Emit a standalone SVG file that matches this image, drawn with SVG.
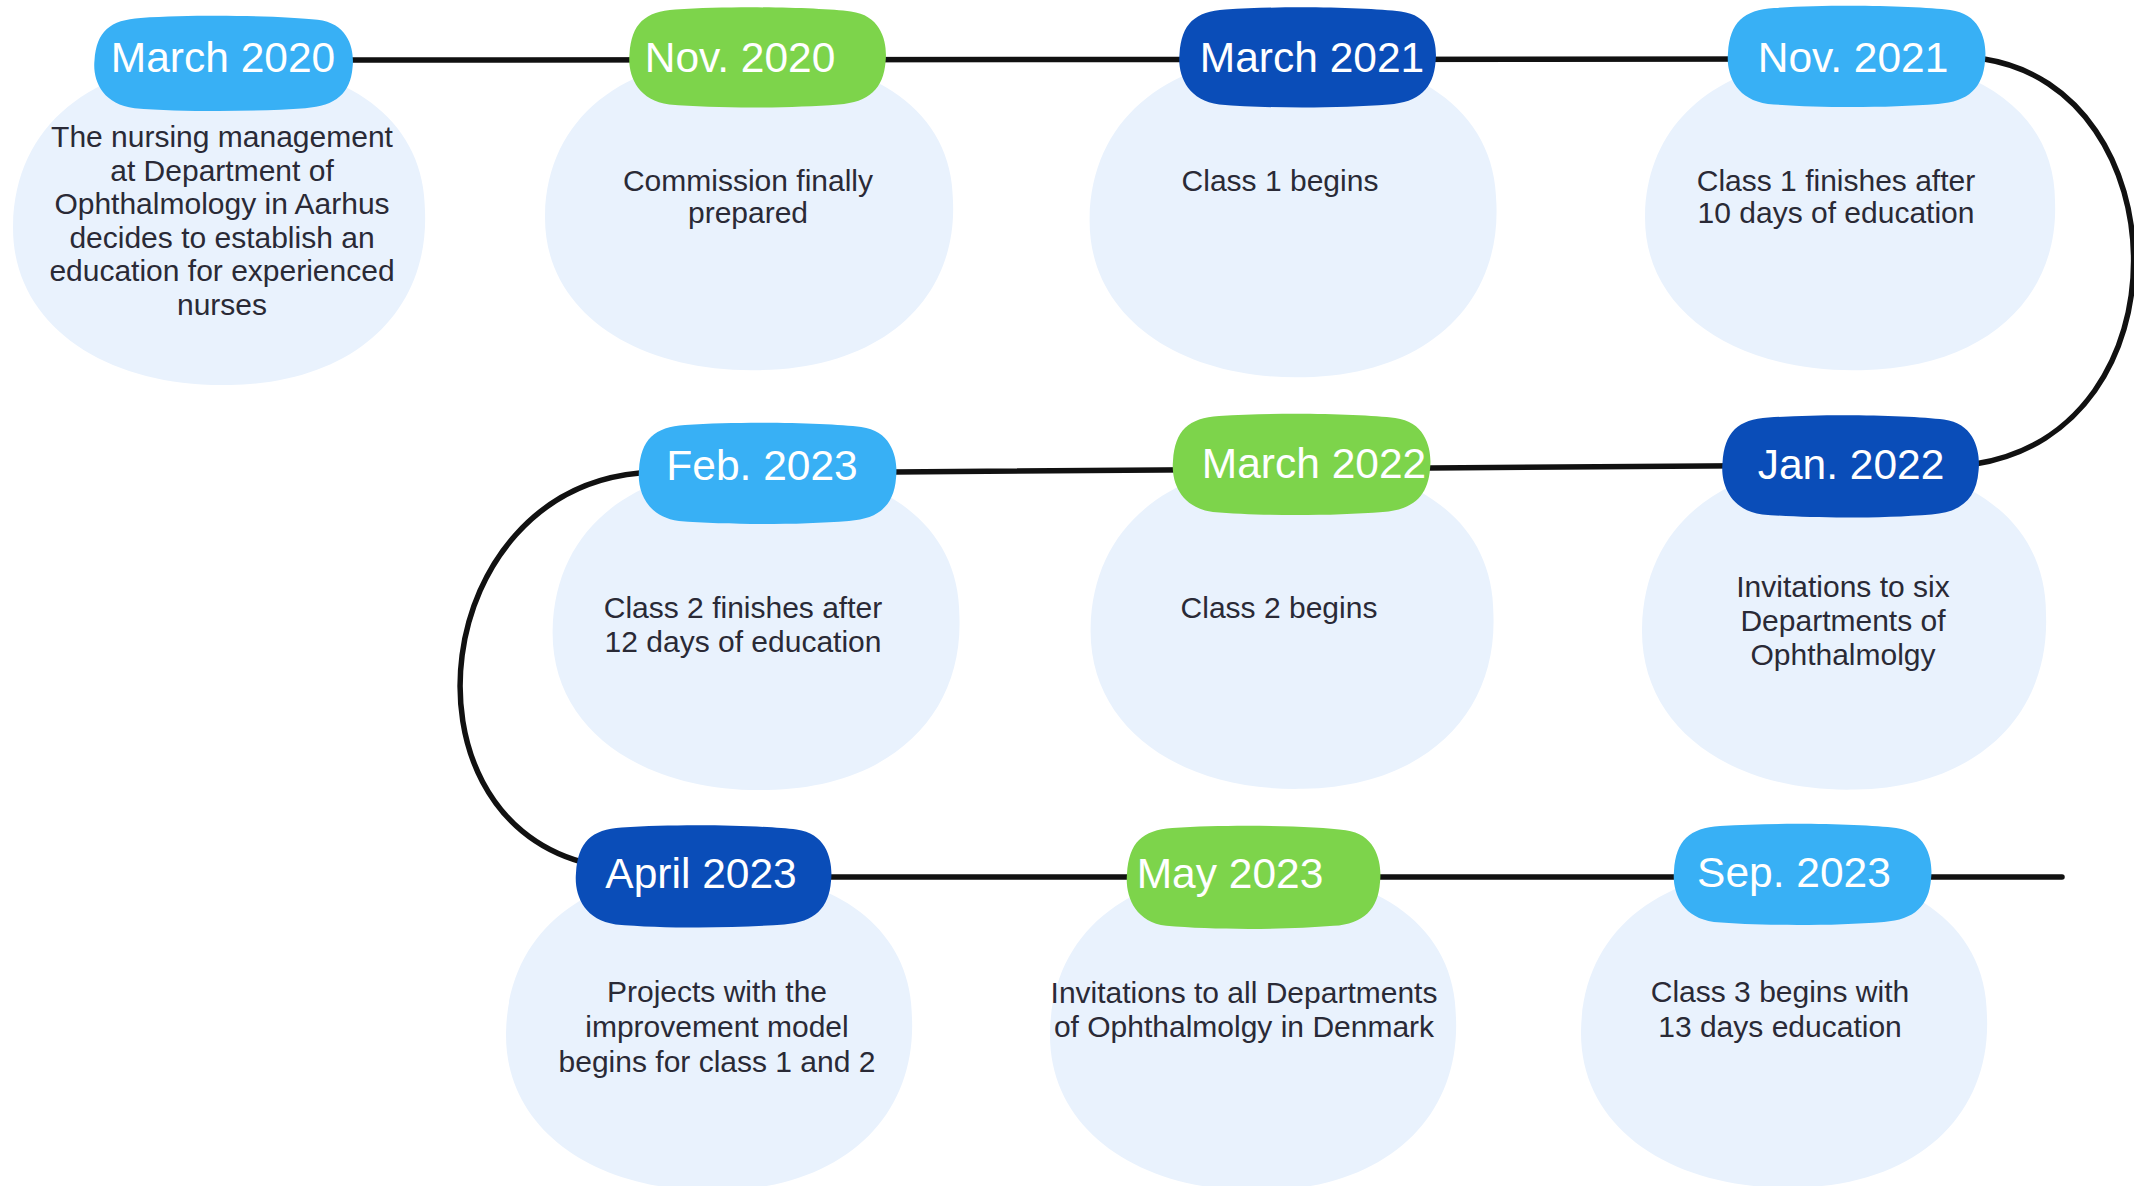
<svg xmlns="http://www.w3.org/2000/svg" xmlns:xlink="http://www.w3.org/1999/xlink" width="2134" height="1186" viewBox="0 0 2134 1186">
<style>
.blob{fill:#e9f2fd}
.lb{fill:#38b0f5}
.gr{fill:#7dd44b}
.db{fill:#0a4db8}
.date{font-family:"Liberation Sans",Arial,sans-serif;font-size:42.5px;fill:#ffffff;text-anchor:middle}
.body{font-family:"Liberation Sans",Arial,sans-serif;font-size:30px;fill:#2a2a36;text-anchor:middle}
.conn{fill:none;stroke:#111111;stroke-width:5.5;stroke-linecap:round;stroke-linejoin:round}
</style>
<defs>
<path id="blob" d="M -10,-162 C 110,-166 200,-112 200,-12 C 204,88 132,160 12,162 C -108,165 -200,102 -198,2 C -196,-98 -122,-158 -10,-162 Z"/>
<path id="pill" d="M -80,-48 C -20,-52 60,-50 92,-46 C 124,-42 128,-12 126,4 C 124,30 110,44 80,46 C 30,50 -40,50 -86,46 C -118,42 -127,16 -125,-4 C -123,-34 -110,-46 -80,-48 Z"/>
</defs>
<rect width="2134" height="1186" fill="#ffffff"/>

<g id="blobs">
<use xlink:href="#blob" href="#blob" class="blob" transform="translate(218,223) scale(1.035,1)"/>
<use xlink:href="#blob" href="#blob" class="blob" transform="translate(748,213) scale(1.025,0.97)"/>
<use xlink:href="#blob" href="#blob" class="blob" transform="translate(1292,216) scale(1.022,0.995)"/>
<use xlink:href="#blob" href="#blob" class="blob" transform="translate(1849,213) scale(1.03,0.97)"/>
<use xlink:href="#blob" href="#blob" class="blob" transform="translate(1843,626) scale(1.015,1.01)"/>
<use xlink:href="#blob" href="#blob" class="blob" transform="translate(1291,626) scale(1.012,1.005)"/>
<use xlink:href="#blob" href="#blob" class="blob" transform="translate(755,628) scale(1.022,1.0)"/>
<use xlink:href="#blob" href="#blob" class="blob" transform="translate(708,1030) scale(1.02,0.99)"/>
<use xlink:href="#blob" href="#blob" class="blob" transform="translate(1252,1030) scale(1.02,0.99)"/>
<use xlink:href="#blob" href="#blob" class="blob" transform="translate(1783,1028) scale(1.02,0.985)"/>
</g>

<g id="connectors">
<path class="conn" d="M 300,60 L 1984,59 C 2180,90 2190,430 1975,464 L 894,472 L 640,473 C 430,492 395,810 582,862 L 700,877 L 2062,877"/>
</g>

<g id="n1">
<use xlink:href="#pill" href="#pill" class="lb" transform="translate(223,64) scale(1.028,0.96)"/>
<text class="date" x="223" y="72">March 2020</text>
<text class="body"><tspan x="222" y="147">The nursing management</tspan><tspan x="222" y="181">at Department of</tspan><tspan x="222" y="214">Ophthalmology in Aarhus</tspan><tspan x="222" y="248">decides to establish an</tspan><tspan x="222" y="281">education for experienced</tspan><tspan x="222" y="315">nurses</tspan></text>
</g>
<g id="n2">
<use xlink:href="#pill" href="#pill" class="gr" transform="translate(757,58) scale(1.02,1.01)"/>
<text class="date" x="740" y="72">Nov. 2020</text>
<text class="body"><tspan x="748" y="191">Commission finally</tspan><tspan x="748" y="223">prepared</tspan></text>
</g>
<g id="n3">
<use xlink:href="#pill" href="#pill" class="db" transform="translate(1307,58) scale(1.02,1.01)"/>
<text class="date" x="1312" y="72">March 2021</text>
<text class="body"><tspan x="1280" y="191">Class 1 begins</tspan></text>
</g>
<g id="n4">
<use xlink:href="#pill" href="#pill" class="lb" transform="translate(1856,57) scale(1.024,1.02)"/>
<text class="date" x="1853" y="72">Nov. 2021</text>
<text class="body"><tspan x="1836" y="191">Class 1 finishes after</tspan><tspan x="1836" y="223">10 days of education</tspan></text>
</g>
<g id="n5">
<use xlink:href="#pill" href="#pill" class="db" transform="translate(1850,467) scale(1.02,1.03)"/>
<text class="date" x="1851" y="479">Jan. 2022</text>
<text class="body"><tspan x="1843" y="597">Invitations to six</tspan><tspan x="1843" y="631">Departments of</tspan><tspan x="1843" y="665">Ophthalmolgy</tspan></text>
</g>
<g id="n6">
<use xlink:href="#pill" href="#pill" class="gr" transform="translate(1301,465) scale(1.024,1.02)"/>
<text class="date" x="1314" y="478">March 2022</text>
<text class="body"><tspan x="1279" y="618">Class 2 begins</tspan></text>
</g>
<g id="n7">
<use xlink:href="#pill" href="#pill" class="lb" transform="translate(767,474) scale(1.024,1.02)"/>
<text class="date" x="762" y="480">Feb. 2023</text>
<text class="body"><tspan x="743" y="618">Class 2 finishes after</tspan><tspan x="743" y="652">12 days of education</tspan></text>
</g>
<g id="n8">
<use xlink:href="#pill" href="#pill" class="db" transform="translate(703,877) scale(1.016,1.03)"/>
<text class="date" x="701" y="888">April 2023</text>
<text class="body"><tspan x="717" y="1002">Projects with the</tspan><tspan x="717" y="1037">improvement model</tspan><tspan x="717" y="1072">begins for class 1 and 2</tspan></text>
</g>
<g id="n9">
<use xlink:href="#pill" href="#pill" class="gr" transform="translate(1253,878) scale(1.008,1.04)"/>
<text class="date" x="1230" y="888">May 2023</text>
<text class="body"><tspan x="1244" y="1003">Invitations to all Departments</tspan><tspan x="1244" y="1037">of Ophthalmolgy in Denmark</tspan></text>
</g>
<g id="n10">
<use xlink:href="#pill" href="#pill" class="lb" transform="translate(1802,875) scale(1.024,1.02)"/>
<text class="date" x="1794" y="887">Sep. 2023</text>
<text class="body"><tspan x="1780" y="1002">Class 3 begins with</tspan><tspan x="1780" y="1037">13 days education</tspan></text>
</g>
</svg>
